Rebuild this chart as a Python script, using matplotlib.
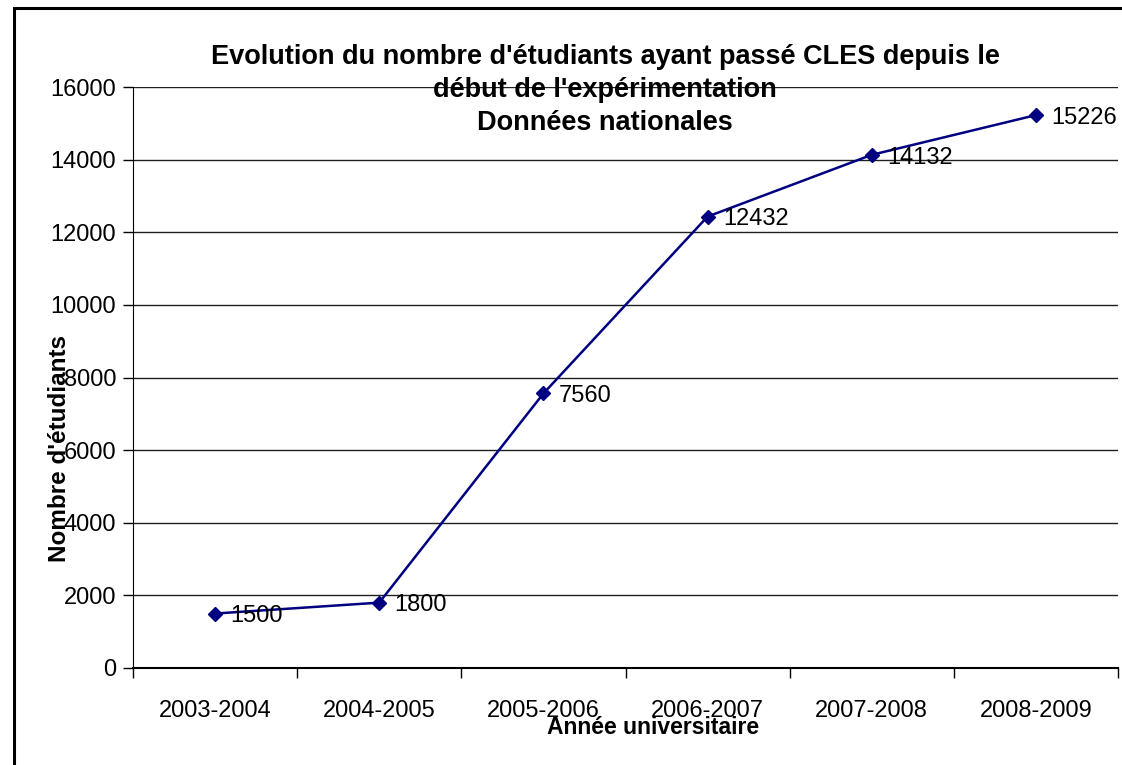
import matplotlib
matplotlib.use("Agg")
import matplotlib.pyplot as plt
from matplotlib.patches import Rectangle
import numpy as np

plt.rcParams['font.family'] = ['Liberation Sans', 'DejaVu Sans']

annees = ["2003-2004", "2004-2005", "2005-2006", "2006-2007", "2007-2008", "2008-2009"]
etudiants = [1500, 1800, 7560, 12432, 14132, 15226]
yticks = [0, 2000, 4000, 6000, 8000, 10000, 12000, 14000, 16000]

fig = plt.figure(figsize=(11.22, 7.65), dpi=100)
ax = fig.add_axes([133/1122, 1-668/765, (1118-133)/1122, (668-87)/765])

x = np.arange(len(annees))
ax.plot(x, etudiants, color='#000080', lw=1.8, marker='D', ms=7, mfc='#000080', mec='#000080', zorder=3)
for xi, v in zip(x, etudiants):
    ax.annotate(str(v), (xi, v), xytext=(11, -2), textcoords='offset points',
                ha='left', va='center', fontsize=17, color='black', zorder=4)

ax.set_xlim(-0.5, len(annees) - 0.5)
ax.set_ylim(0, 16000)
ax.set_yticks(yticks)
ax.set_yticklabels([str(t) for t in yticks])
ax.set_xticks(x)
ax.set_xticklabels(annees)
ax.set_xticks(np.arange(len(annees) + 1) - 0.5, minor=True)
ax.tick_params(axis='x', which='major', length=0, pad=23, labelsize=17)
ax.tick_params(axis='x', which='minor', length=7, width=1, direction='out', color='black')
ax.tick_params(axis='y', length=7, width=1, direction='out', labelsize=17, pad=5)
ax.yaxis.grid(True, color='#202020', lw=1)
ax.set_axisbelow(True)
for s in ['top', 'right']:
    ax.spines[s].set_visible(False)
ax.spines['left'].set_color('black')
ax.spines['bottom'].set_color('black')
ax.spines['bottom'].set_linewidth(1.5)

fig.text(605/1122, 1-90/765, "Evolution du nombre d'étudiants ayant passé CLES depuis le\n"
         "début de l'expérimentation\nDonnées nationales",
         ha='center', va='center', fontsize=19.5, fontweight='bold', linespacing=1.35)
fig.text(60/1122, 1-448/765, "Nombre d'étudiants", rotation=90, ha='center', va='center',
         fontsize=17.5, fontweight='bold')
fig.text(653/1122, 1-728/765, "Année universitaire", ha='center', va='center',
         fontsize=16.5, fontweight='bold')

fig.patches.append(Rectangle((14/1122, -0.1), 1.2, 1-8/765+0.1, transform=fig.transFigure,
                             fill=False, ec='black', lw=2.2))

fig.savefig("out.png", dpi=100)
